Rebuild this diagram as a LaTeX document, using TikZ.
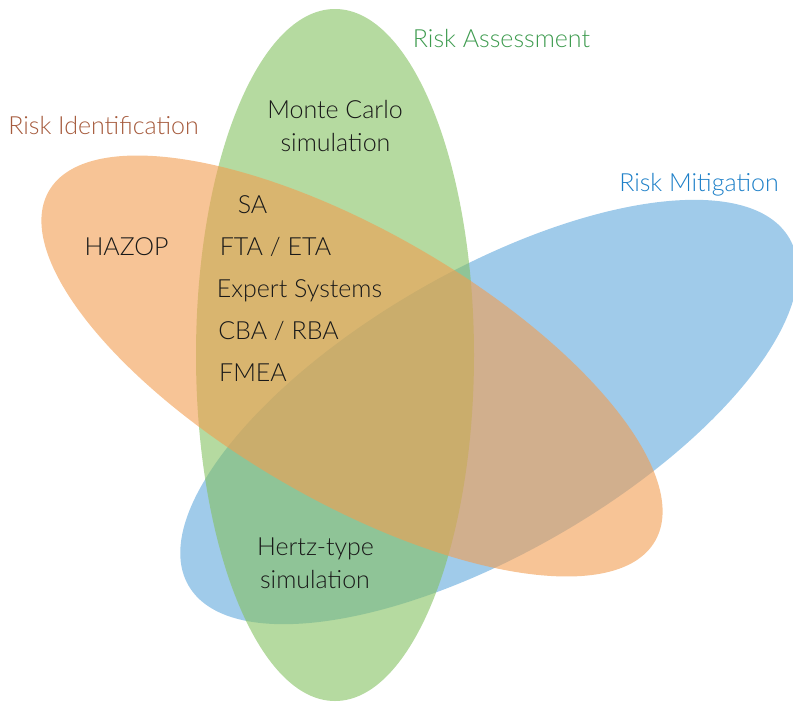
\documentclass[tikz,border=0pt]{standalone}
\usepackage{fontspec}
\setmainfont{Lato Light}
\definecolor{gfill}{RGB}{132,193,96}
\definecolor{ofill}{RGB}{242,157,80}
\definecolor{bfill}{RGB}{97,168,220}
\definecolor{gtext}{RGB}{62,155,79}
\definecolor{otext}{RGB}{165,90,60}
\definecolor{btext}{RGB}{30,128,200}
\definecolor{ktext}{RGB}{25,25,25}
\begin{document}
\begin{tikzpicture}[x=1pt,y=-1pt,
  setfill/.style={fill opacity=0.6},
  lbl/.style={anchor=base, inner sep=0pt, font=\fontsize{25}{30}\selectfont, text=ktext},
  ttl/.style={lbl}]
\useasboundingbox (0,0) rectangle (793,702);
% sets (blue bottom, green middle, orange top)
\fill[bfill, setfill, shift={(489,412)}, rotate=30] (0,0) ellipse [x radius=347pt, y radius=141pt];
\fill[gfill, setfill] (335,355) ellipse [x radius=139pt, y radius=346pt];
\fill[ofill, setfill, shift={(352,366)}, rotate=-30] (0,0) ellipse [x radius=350pt, y radius=135pt];
% titles
\node[ttl, text=gtext] (assess) at (501.5,47) {Risk Assessment};
\node[ttl, text=otext] (ident) at (103.5,134) {Risk Identification};
\node[ttl, text=btext] (mitig) at (699,191) {Risk Mitigation};
% methods
\node[lbl] (mc1) at (335,118) {Monte Carlo};
\node[lbl] (mc2) at (335.5,151) {simulation};
\node[lbl] (hazop) at (126.5,255) {HAZOP};
\node[lbl] (sa) at (252.5,213) {SA};
\node[lbl] (fta) at (275.5,255) {FTA / ETA};
\node[lbl] (expert) at (299.5,297) {Expert Systems};
\node[lbl] (cba) at (278.5,339) {CBA / RBA};
\node[lbl] (fmea) at (253,381) {FMEA};
\node[lbl] (hz1) at (315.5,555) {Hertz-type};
\node[lbl] (hz2) at (315,588) {simulation};
\end{tikzpicture}
\end{document}
